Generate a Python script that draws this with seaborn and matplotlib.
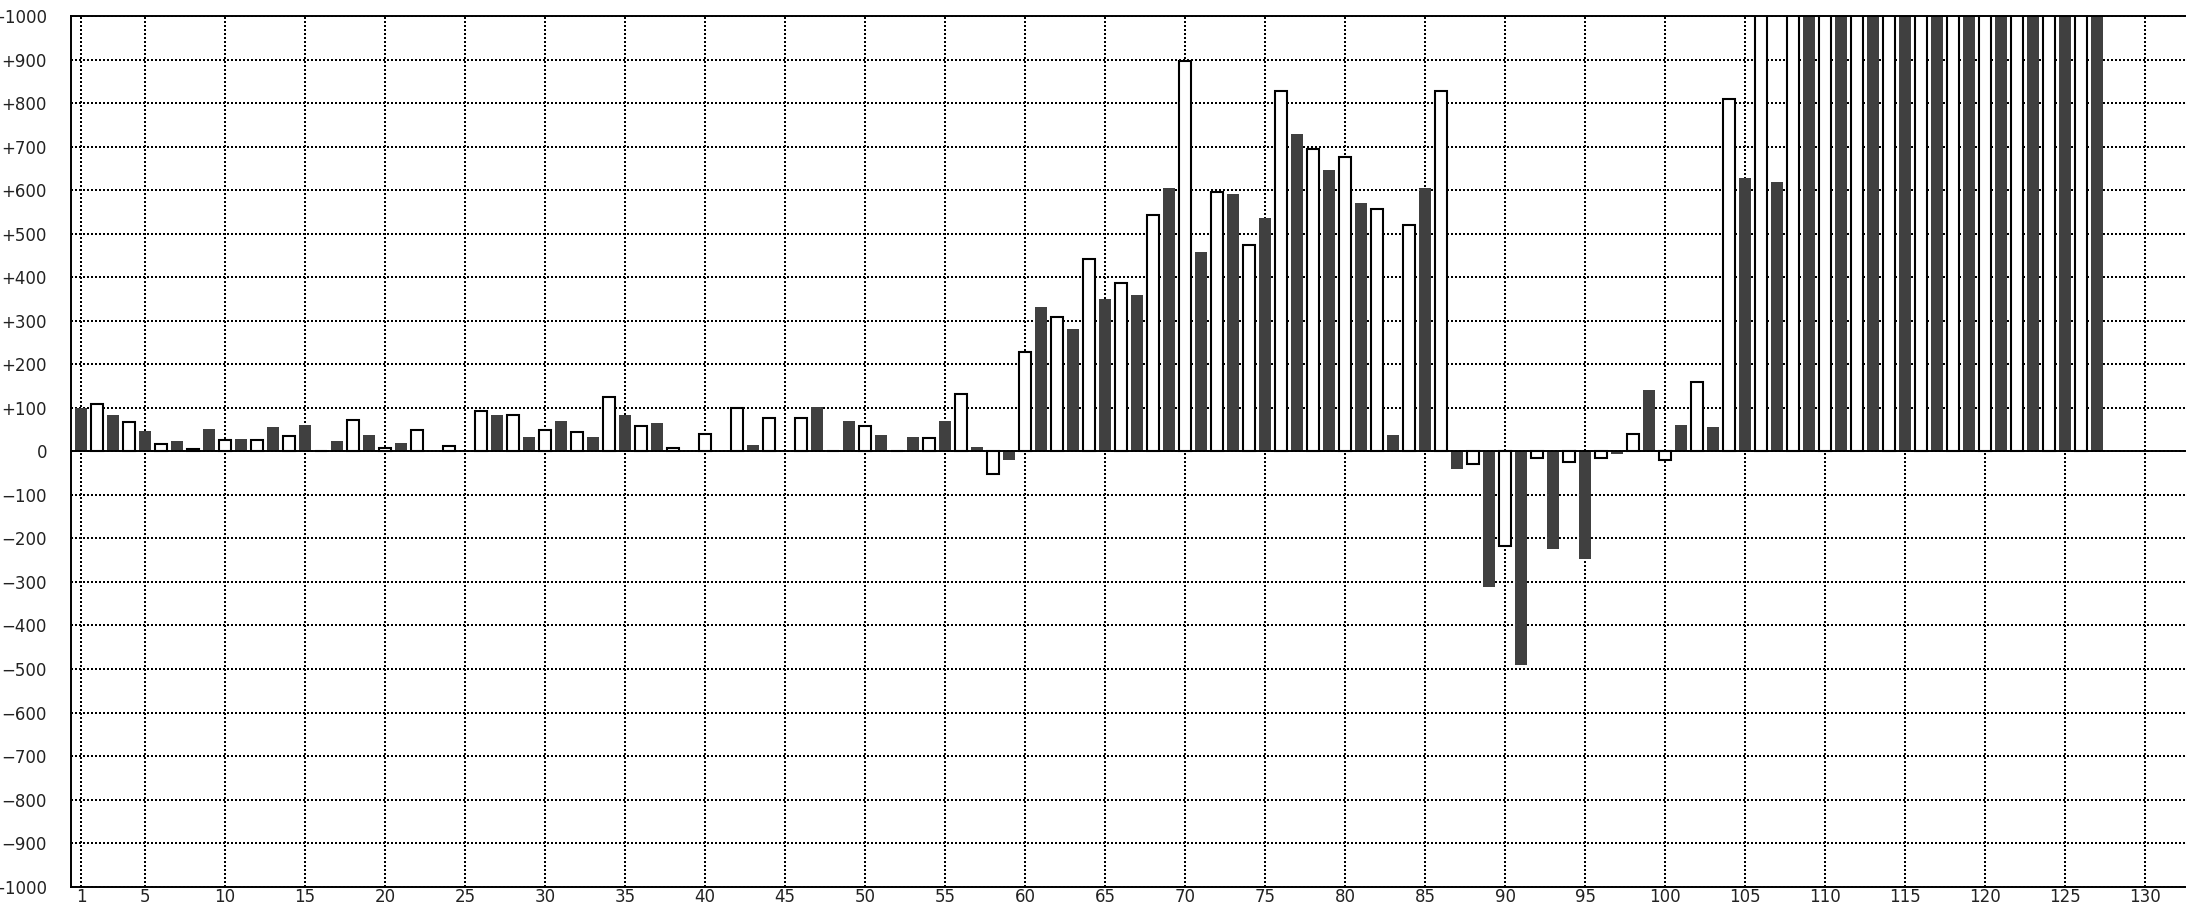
import numpy as np
import pandas as pd
import matplotlib
matplotlib.use('Agg')
import matplotlib.pyplot as plt
import seaborn as sns
from matplotlib.ticker import FuncFormatter

# dark bars sit on the odd positions 1, 3, ..., 127
dark_values = [100, 83, 47, 23, 51, 28, 56, 60, 23, 37,
               19, 0, 0, 84, 32, 69, 32, 83, 65, 0,
               0, 15, 0, 101, 69, 37, 32, 69, 9, -21,
               332, 281, 350, 360, 605, 457, 590, 535, 728, 646,
               571, 37, 605, -40, -312, -491, -224, -248, -7, 142,
               60, 56, 627, 618,
               1100, 1100, 1100, 1100, 1100, 1100, 1100, 1100, 1100, 1100]

# white bars sit on the even positions 2, 4, ..., 126
light_values = [109, 68, 17, 5, 27, 27, 36, 0, 73, 8,
                49, 13, 93, 83, 49, 45, 124, 59, 8, 40,
                100, 77, 77, 0, 59, 0, 31, 132, -52, 229,
                308, 441, 386, 543, 896, 595, 474, 828, 695, 676,
                557, 519, 828, -29, -217, -16, -24, -16, 40, -21,
                160, 810,
                1100, 1100, 1100, 1100, 1100, 1100, 1100, 1100, 1100, 1100, 1100]

x_ticks = [1] + list(range(5, 131, 5))
y_ticks = list(range(-1000, 1001, 100))

dark_pos = list(range(1, 2 * len(dark_values), 2))
light_pos = list(range(2, 2 * len(light_values) + 1, 2))

df = pd.DataFrame({
    'pos': dark_pos + light_pos,
    'value': dark_values + light_values,
    'series': ['dark'] * len(dark_values) + ['light'] * len(light_values),
})

plt.rcParams['font.family'] = ['DejaVu Sans']

fig = plt.figure(figsize=(21.86, 9.06), dpi=100)
ax = fig.add_axes([70.7 / 2186, 19.3 / 906, 1 - 70.7 / 2186, (886.7 - 16) / 906])

sns.barplot(data=df, x='pos', y='value', hue='series', hue_order=['dark', 'light'],
            palette={'dark': '#404040', 'light': 'white'}, native_scale=True,
            dodge=False, width=0.75, errorbar=None, legend=False, ax=ax,
            zorder=2)

# outline only the white bars
for cont in ax.containers:
    for bar in cont:
        if bar.get_facecolor()[0] > 0.9:
            bar.set_edgecolor('black')
            bar.set_linewidth(1.5)
        else:
            bar.set_edgecolor('none')
            bar.set_linewidth(0)

ax.set_xlim(0.356, 132.56)
ax.set_ylim(-1000, 1000)
ax.set_xticks(x_ticks)
ax.set_yticks(y_ticks)


def fmt(v, pos):
    v = int(round(v))
    if v > 0:
        return '+%d' % v
    if v < 0:
        return '\u2212%d' % abs(v)
    return '0'


ax.yaxis.set_major_formatter(FuncFormatter(fmt))
ax.tick_params(axis='y', length=0, pad=17, labelsize=12, labelcolor='#222222')
ax.tick_params(axis='x', length=0, pad=1, labelsize=12, labelcolor='#222222')
ax.set_xlabel('')
ax.set_ylabel('')

ax.grid(True, color='black', linestyle=(0, (1, 1)), linewidth=1.44)
ax.set_axisbelow(True)
ax.axhline(0, color='black', linewidth=1.4, zorder=3)

ax.spines['right'].set_visible(False)
for side in ['left', 'top', 'bottom']:
    ax.spines[side].set_linewidth(1.4)
    ax.spines[side].set_color('black')

fig.savefig('out.png', dpi=100)
